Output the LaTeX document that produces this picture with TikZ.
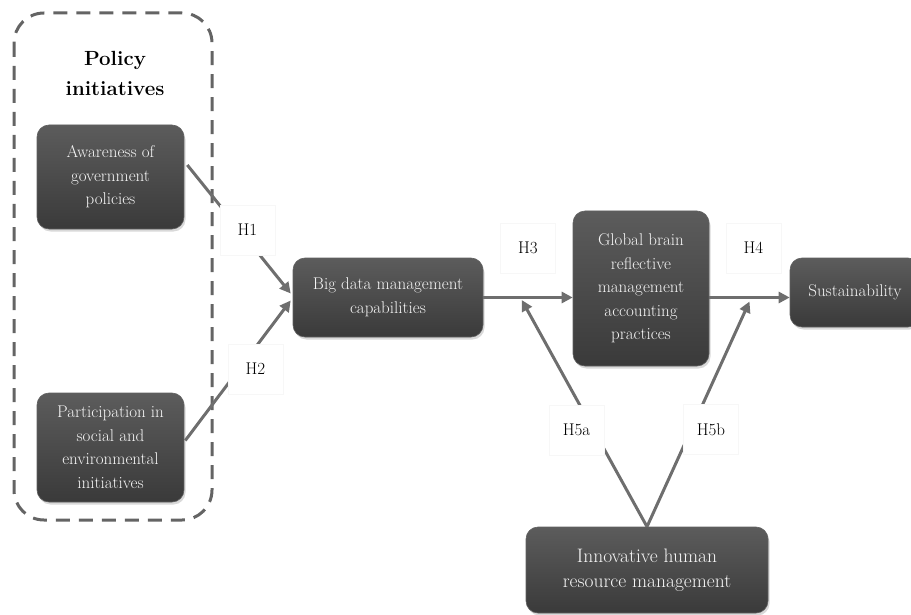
\documentclass[tikz,border=0pt]{standalone}
\usetikzlibrary{arrows.meta,calc,shadows}
\definecolor{boxTop}{HTML}{5C5C5C}
\definecolor{boxBot}{HTML}{3A3A3A}
\definecolor{linkColor}{HTML}{6E6E6E}
\definecolor{frameColor}{HTML}{646464}
\tikzset{
	box/.style={draw=gray!75!black, line width=0.6pt, rounded corners=12pt,
		top color=boxTop, bottom color=boxBot, text=white!96!black, align=center,
		font=\fontsize{17}{23.5}\selectfont, inner sep=4pt,
		drop shadow={opacity=0.3, shadow xshift=1.5pt, shadow yshift=-2.5pt}},
	hyp/.style={fill=white, draw=gray!6, minimum width=55pt, minimum height=50pt,
		font=\fontsize{17}{18}\selectfont},
	link/.style={draw=linkColor, line width=3pt, -{Triangle[length=11pt,width=11pt]}},
	policyframe/.style={draw=frameColor, line width=3pt, dash pattern=on 14pt off 9pt,
		rounded corners=30pt}
}

\begin{document}
\begin{tikzpicture}[x=1pt,y=-1pt]
	\useasboundingbox (0,0) rectangle (911,615);
	% policy group
	\draw[policyframe] (14,13) rectangle (212,520);
	\node[font=\bfseries\fontsize{20.5}{30}\selectfont, align=center] (policy) at (115,73) {Policy\\initiatives};
	
	\node[box, minimum width=147pt, minimum height=104pt] (aware) at (110.5,177) {Awareness of\\government\\policies};
	\node[box, minimum width=147pt, minimum height=109pt] (partic) at (110.5,447.5) {Participation in\\social and\\environmental\\initiatives};
	\node[box, minimum width=190pt, minimum height=79pt] (bigdata) at (388,297.5) {Big data management\\capabilities};
	\node[box, minimum width=136pt, minimum height=155pt] (global) at (641,288.5) {Global brain\\reflective\\management\\accounting\\practices};
	\node[box, minimum width=130pt, minimum height=69pt] (sustain) at (855,292.5) {Sustainability};
	\node[box, minimum width=242pt, minimum height=86pt, font=\fontsize{19.5}{25}\selectfont] (hrm) at (647,570) {Innovative human\\resource management};
	
	% paths
	\draw[link] ($(aware.east)+(3,-12)$) -- ($(bigdata.west)+(-2,-4)$);
	\draw[link] ($(partic.east)+(1,-7)$) -- ($(bigdata.west)+(-2,3)$);
	\draw[link] (bigdata.east) -- (global.west |- bigdata.east);
	\draw[link] (global.east |- bigdata.east) -- (sustain.west |- bigdata.east);
	\coordinate (h3pt) at ($(bigdata.east)!0.43!(global.west |- bigdata.east)$);
	\coordinate (h4pt) at ($(global.east |- bigdata.east)!0.5!(sustain.west |- bigdata.east)$);
	\draw[link] (hrm.north) -- ($(h3pt)+(0,2.5)$);
	\draw[link] (hrm.north) -- ($(h4pt)+(0,4)$);
	
	% hypotheses
	\node[hyp] (h1) at (247.5,230) {H1};
	\node[hyp] (h2) at (255.5,369) {H2};
	\node[hyp] (h3) at (528,248) {H3};
	\node[hyp] (h4) at (753.5,248) {H4};
	\node[hyp] (h5a) at (576.5,430) {H5a};
	\node[hyp] (h5b) at (711,429.5) {H5b};
\end{tikzpicture}
\end{document}
